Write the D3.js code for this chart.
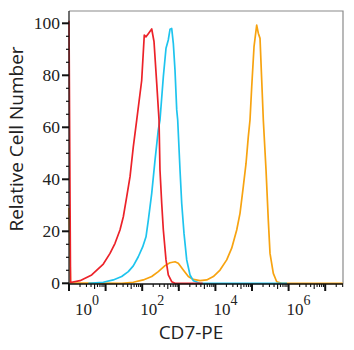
<!DOCTYPE html>
<html><head><meta charset="utf-8">
<script src="https://cdn.jsdelivr.net/npm/d3@7"></script>
<style>body{margin:0;background:#fff}svg{display:block}</style>
</head><body>
<svg id="c" width="354" height="350"></svg>
<script>
// Data: [intensity, relative cell number]
const redSeries = [[1,101],[1.1,0.3],[2.0,1.0],[4.17,3.2],[8.65,7.4],[13.2,11.5],[18.1,15.4],[24.7,20.5],[30.5,25.6],[37.8,33.3],[46.5,41],[57.1,52.5],[70.8,62.8],[96.8,78],[114,95.5],[127,94.8],[147,96],[182,97.8],[210,93],[249,77],[288,62.8],[306,43.6],[341,30.8],[378,20.5],[447,9],[516,3.2],[640,0.6],[787,0],[4500,0]];
const cyanSeries = [[3.37,0],[8.65,0.4],[16.2,1.3],[27.5,2.6],[41.7,4.5],[57.1,6.7],[78.2,10.2],[103,14],[127,17.9],[147,24.3],[182,34.6],[224,47.4],[275,59],[306,62.8],[378,79.5],[447,90.4],[516,93.6],[575,97.7],[640,98],[708,92.3],[787,82],[877,66.7],[933,62.8],[1079,43.6],[1200,30.8],[1387,19.2],[1644,9],[2023,3.2],[2489,1],[3793,0],[903649,0]];
const orangeSeries = [[1,29],[1.1,0.2],[27.5,0],[57.1,0.4],[107,1.3],[182,2.6],[275,4.5],[420,6.8],[575,7.9],[787,8.3],[968,7.7],[1327,5.1],[1820,2.6],[2489,1.5],[3793,1.0],[5781,1.3],[8770,2.6],[13366,5.1],[20370,9],[27861,13.5],[38194,20.5],[46989,26.9],[57810,37.2],[68549,46],[79250,56.4],[88105,62.8],[98175,75.6],[113501,91],[134276,99.3],[148594,96.2],[165577,94.2],[184077,78.2],[203704,62.8],[241546,43.6],[278612,24.3],[310456,11.5],[381944,3.8],[473151,0.6],[647143,0],[3.0e7,0]];
const yTicks = [0,20,40,60,80,100];
const xLabelExps = [0,2,4,6];
const xTitle = "CD7-PE";
const yTitle = "Relative Cell Number";

const svg = d3.select("#c");
const L = 69, R = 343, T = 11, B = 284;
const x = d3.scaleLog().domain([1, Math.pow(10, 7.486)]).range([L, R]);
const y = d3.scaleLinear().domain([0, 100]).range([283.3, 23.3]);

// frame
svg.append("path").attr("d", `M${L},${T}H${R}V${B}`).attr("fill","none").attr("stroke","#8a8a8a").attr("stroke-width",1.2);

// series
const line = d3.line().x(d => x(d[0])).y(d => y(d[1]));
[[orangeSeries,"#f7a310"],[cyanSeries,"#1ec4ee"],[redSeries,"#ec2229"]].forEach(([s,c]) => {
  svg.append("path").attr("d", line(s)).attr("fill","none").attr("stroke",c).attr("stroke-width",1.7).attr("stroke-linejoin","round");
});

// y axis
const yMinor = d3.range(0, 101, 5);
const yAx = svg.append("g");
yAx.append("line").attr("x1",L).attr("x2",L).attr("y1",T).attr("y2",B).attr("stroke","#222").attr("stroke-width",1.3);
yAx.selectAll(".ym").data(yMinor).join("line")
  .attr("x1", L).attr("x2", d => yTicks.includes(d) ? L-7 : L-3)
  .attr("y1", d => y(d)).attr("y2", d => y(d))
  .attr("stroke","#111").attr("stroke-width", d => yTicks.includes(d) ? 2 : 1.2);
yAx.selectAll(".yl").data(yTicks).join("text")
  .attr("x", 60).attr("y", d => y(d)).attr("dy","0.34em")
  .attr("text-anchor","end").attr("font-family","Liberation Serif, serif").attr("font-size",17.5).attr("fill","#222")
  .text(d => d);

// x axis
const xAx = svg.append("g");
xAx.append("line").attr("x1",L).attr("x2",R).attr("y1",B).attr("y2",B).attr("stroke","#111").attr("stroke-width",1.5);
const xt = [];
for (let e = 0; e <= 7; e++) for (let m = 1; m <= 9; m++) { const v = m*Math.pow(10,e); if (v <= x.domain()[1]) xt.push([v,m]); }
xAx.selectAll(".xt").data(xt).join("line")
  .attr("x1", d => x(d[0])).attr("x2", d => x(d[0]))
  .attr("y1", B).attr("y2", d => d[1]===1 ? B+7 : (d[1]===5 ? B+5 : B+3))
  .attr("stroke","#111").attr("stroke-width", d => d[1]===1 ? 2 : 1.1);
const xl = xAx.selectAll(".xl").data(xLabelExps).join("text")
  .attr("x", d => d===0 ? 75 : x(Math.pow(10,d)) - 2).attr("y", 314.5)
  .attr("font-family","Liberation Serif, serif").attr("font-size",17).attr("fill","#222");
xl.append("tspan").text("10");
xl.append("tspan").attr("dy",-10).attr("font-size",14).text(d => d);

// titles
svg.append("text").attr("x",191).attr("y",339).attr("text-anchor","middle")
  .attr("font-family","Open Sans, sans-serif").attr("font-size",19).attr("fill","#222").text(xTitle);
svg.append("text").attr("transform","translate(23,139) rotate(-90)").attr("text-anchor","middle")
  .attr("font-family","Open Sans, sans-serif").attr("font-size",19).attr("fill","#222").text(yTitle);
</script>
</body></html>
